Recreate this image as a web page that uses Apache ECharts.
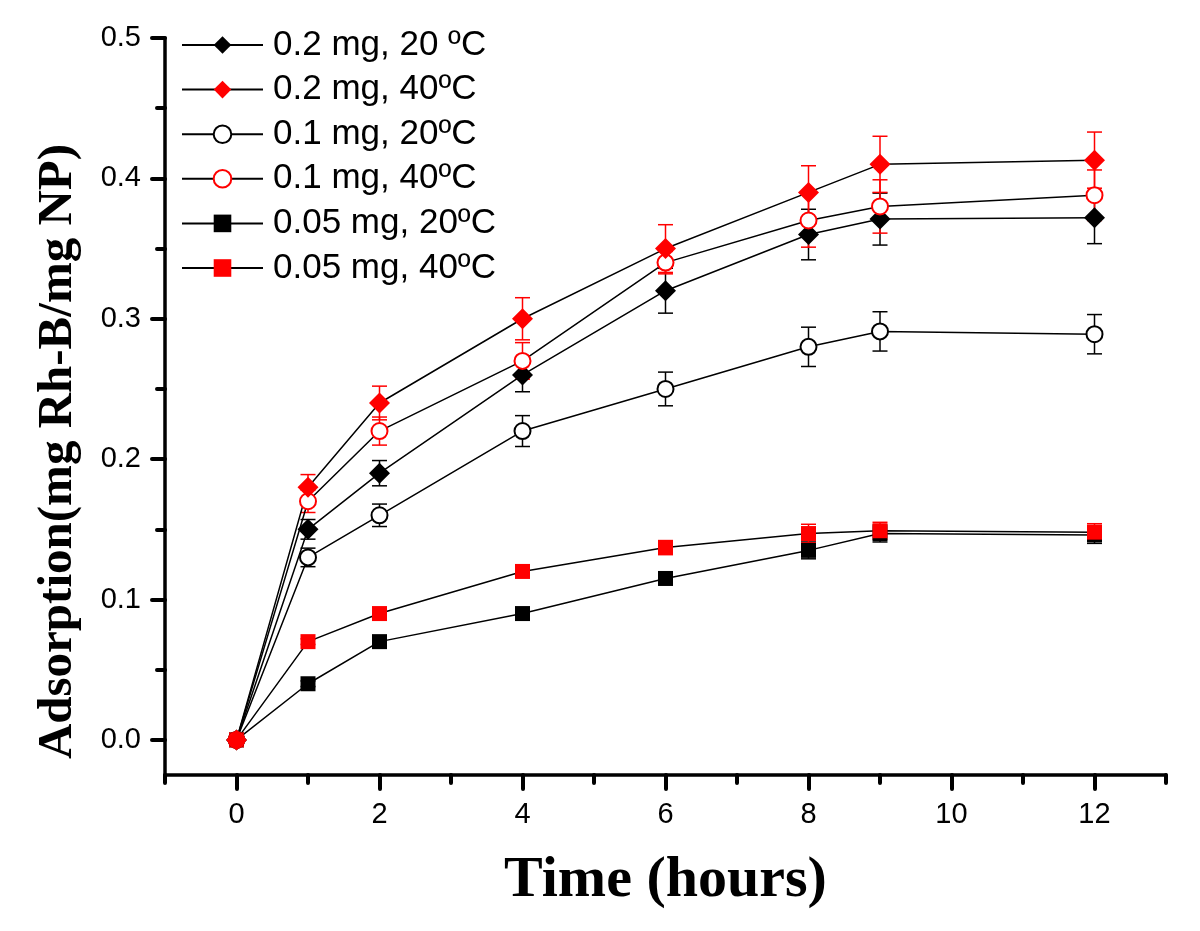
<!DOCTYPE html>
<html>
<head>
<meta charset="utf-8">
<script src="https://cdn.jsdelivr.net/npm/echarts@6/dist/echarts.min.js"></script>
<style>
html,body{margin:0;padding:0;background:#fff;}
#chart{width:1200px;height:931px;}
</style>
</head>
<body>
<div id="chart"></div>
<script>
// Time points (hours)
const times = [0, 1, 2, 4, 6, 8, 9, 12];

// Series names
const names = ['0.2 mg, 20 ºC', '0.2 mg, 40ºC', '0.1 mg, 20ºC', '0.1 mg, 40ºC', '0.05 mg, 20ºC', '0.05 mg, 40ºC'];

// Adsorption values (mg Rh-B / mg NP)
const s1 = [0, 0.150, 0.190, 0.260, 0.320, 0.360, 0.371, 0.372];
const s2 = [0, 0.180, 0.240, 0.300, 0.350, 0.390, 0.410, 0.413];
const s3 = [0, 0.130, 0.160, 0.220, 0.250, 0.280, 0.291, 0.289];
const s4 = [0, 0.170, 0.220, 0.270, 0.340, 0.370, 0.380, 0.388];
const s5 = [0, 0.040, 0.070, 0.090, 0.115, 0.135, 0.147, 0.146];
const s6 = [0, 0.070, 0.090, 0.120, 0.137, 0.147, 0.149, 0.148];

// Error bar half-widths
const e1 = [0, 0.007, 0.009, 0.012, 0.016, 0.018, 0.0185, 0.0185];
const e2 = [0, 0.009, 0.012, 0.015, 0.017, 0.019, 0.020, 0.020];
const e3 = [0, 0.0066, 0.008, 0.011, 0.012, 0.014, 0.014, 0.014];
const e4 = [0, 0.008, 0.010, 0.013, 0.008, 0.019, 0.019, 0.018];
const e5 = [0, 0.002, 0.002, 0.003, 0.004, 0.006, 0.006, 0.006];
const e6 = [0, 0.002, 0.002, 0.004, 0.005, 0.0066, 0.006, 0.006];

// Tick positions
const xMajorTicks = [0, 2, 4, 6, 8, 10, 12];
const xMinorTicks = [-1, 1, 3, 5, 7, 9, 11, 13];
const yMajorTicks = [0, 0.1, 0.2, 0.3, 0.4, 0.5];
const yMinorTicks = [0.05, 0.15, 0.25, 0.35, 0.45];

const RED = '#ff0000';
const BLACK = '#000000';

function lineSeries(name, vals, symbol, color, size) {
  const empty = symbol === 'emptyCircle';
  return {
    name: name,
    type: 'line',
    data: times.map((t, i) => [t, vals[i]]),
    symbol: symbol,
    symbolSize: size,
    showAllSymbol: true,
    itemStyle: { color: color, borderColor: color, borderWidth: empty ? 1.6 : 0 },
    lineStyle: { color: BLACK, width: 1.5 },
    emphasis: { disabled: true },
    z: 3
  };
}

function errSeries(vals, errs, color) {
  return {
    type: 'custom',
    silent: true,
    z: 2,
    encode: { x: 0, y: [1, 2] },
    data: times.map((t, i) => [t, vals[i] - errs[i], vals[i] + errs[i], errs[i]]),
    renderItem: function (params, api) {
      if (api.value(3) <= 0) return { type: 'group', children: [] };
      const x = api.value(0);
      const lo = api.coord([x, api.value(1)]);
      const hi = api.coord([x, api.value(2)]);
      const w = 7.5;
      const st = { stroke: color, lineWidth: 1.5 };
      return {
        type: 'group',
        children: [
          { type: 'line', shape: { x1: lo[0], y1: lo[1], x2: hi[0], y2: hi[1] }, style: st },
          { type: 'line', shape: { x1: lo[0] - w, y1: lo[1], x2: lo[0] + w, y2: lo[1] }, style: st },
          { type: 'line', shape: { x1: hi[0] - w, y1: hi[1], x2: hi[0] + w, y2: hi[1] }, style: st }
        ]
      };
    }
  };
}

const chart = echarts.init(document.getElementById('chart'), null, { renderer: 'canvas' });

const axisFont = { fontFamily: 'Liberation Sans', fontSize: 29, color: BLACK };
const tickLine = { color: BLACK, width: 4, cap: 'round' };

chart.setOption({
  animation: false,
  backgroundColor: '#fff',
  grid: { left: 165, right: 34, top: 38, bottom: 156 },
  legend: {
    data: names,
    orient: 'vertical',
    left: 181,
    top: 27,
    padding: 0,
    itemWidth: 81,
    itemHeight: 22,
    itemGap: 8.6,
    selectedMode: false,
    textStyle: { fontFamily: 'Liberation Sans', fontSize: 35, color: BLACK, lineHeight: 36, padding: [0, 0, 0, 5] }
  },
  xAxis: [
    {
      type: 'value', min: -1, max: 13,
      name: 'Time (hours)', nameLocation: 'middle', nameGap: 77,
      nameTextStyle: { fontFamily: 'Liberation Serif', fontWeight: 'bold', fontSize: 58, color: BLACK },
      axisLine: { show: true, onZero: false, lineStyle: { color: BLACK, width: 3.5 } },
      axisTick: { show: true, inside: false, length: 14, customValues: xMajorTicks, lineStyle: tickLine },
      axisLabel: Object.assign({ customValues: xMajorTicks, margin: 25 }, axisFont),
      splitLine: { show: false }
    },
    {
      type: 'value', min: -1, max: 13, position: 'bottom',
      axisLine: { show: false, onZero: false },
      axisTick: { show: true, inside: false, length: 8, customValues: xMinorTicks, lineStyle: tickLine },
      axisLabel: { show: false },
      splitLine: { show: false }
    }
  ],
  yAxis: [
    {
      type: 'value', min: -0.025, max: 0.5,
      name: 'Adsorption(mg Rh-B/mg NP)', nameLocation: 'middle', nameGap: 82,
      nameTextStyle: { fontFamily: 'Liberation Serif', fontWeight: 'bold', fontSize: 49, color: BLACK, padding: [0, 90, 0, 0] },
      axisLine: { show: true, onZero: false, lineStyle: { color: BLACK, width: 3.5 } },
      axisTick: { show: true, inside: false, length: 13, customValues: yMajorTicks, lineStyle: tickLine },
      axisLabel: Object.assign({ customValues: yMajorTicks, margin: 24, formatter: v => v.toFixed(1) }, axisFont),
      splitLine: { show: false }
    },
    {
      type: 'value', min: -0.025, max: 0.5, position: 'left',
      axisLine: { show: false, onZero: false },
      axisTick: { show: true, inside: false, length: 8, customValues: yMinorTicks, lineStyle: tickLine },
      axisLabel: { show: false },
      splitLine: { show: false }
    }
  ],
  series: [
    errSeries(s5, e5, BLACK),
    errSeries(s6, e6, RED),
    errSeries(s3, e3, BLACK),
    errSeries(s1, e1, BLACK),
    errSeries(s4, e4, RED),
    errSeries(s2, e2, RED),
    lineSeries(names[4], s5, 'rect', BLACK, 15),
    lineSeries(names[5], s6, 'rect', RED, 15),
    lineSeries(names[2], s3, 'emptyCircle', BLACK, 16),
    lineSeries(names[0], s1, 'diamond', BLACK, 21),
    lineSeries(names[3], s4, 'emptyCircle', RED, 16),
    lineSeries(names[1], s2, 'diamond', RED, 21)
  ]
});
</script>
</body>
</html>
